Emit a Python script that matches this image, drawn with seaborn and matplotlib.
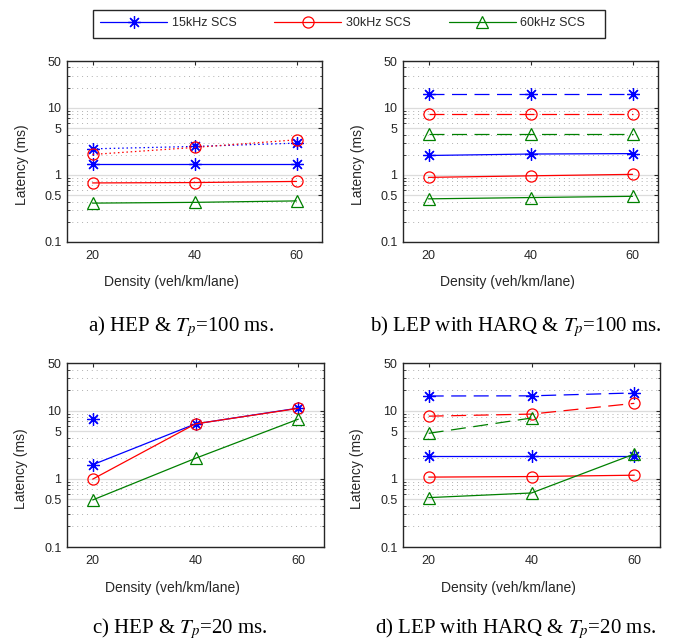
import matplotlib
matplotlib.use("Agg")
import matplotlib.pyplot as plt
import numpy as np
import pandas as pd
import seaborn as sns
from matplotlib.lines import Line2D
from matplotlib.patches import Rectangle
from matplotlib.ticker import FixedLocator, LogLocator, NullFormatter

# ---------------------------------------------------------------
# data (latency in ms)
# ---------------------------------------------------------------
density = [20, 40, 60]
scs_labels = ["15kHz SCS", "30kHz SCS", "60kHz SCS"]
y_ticks = [0.1, 0.5, 1, 5, 10, 50]
y_tick_labels = ["0.1", "0.5", "1", "5", "10", "50"]

# a) HEP & Tp=100 ms
a_solid_15 = [1.45, 1.45, 1.45]
a_solid_30 = [0.76, 0.77, 0.80]
a_solid_60 = [0.38, 0.39, 0.41]
a_dot_15 = [2.45, 2.66, 2.98]
a_dot_30 = [2.02, 2.57, 3.34]

# b) LEP with HARQ & Tp=100 ms
b_solid_15 = [1.95, 2.05, 2.08]
b_solid_30 = [0.92, 0.97, 1.02]
b_solid_60 = [0.44, 0.46, 0.48]
b_dash_15 = [16.2, 16.2, 16.2]
b_dash_30 = [8.1, 8.1, 8.1]
b_dash_60 = [4.1, 4.1, 4.1]

# c) HEP & Tp=20 ms
c_solid_15 = [1.61, 6.4, 10.9]
c_solid_30 = [0.99, 6.4, 10.8]
c_solid_60 = [0.49, 2.0, 7.5]
c_dot_15 = [7.6, np.nan, np.nan]

# d) LEP with HARQ & Tp=20 ms
d_solid_15 = [2.16, 2.16, 2.16]
d_solid_30 = [1.06, 1.08, 1.13]
d_solid_60 = [0.53, 0.62, 2.31]
d_dash_15 = [16.4, 16.5, 18.2]
d_dash_30 = [8.3, 8.9, 12.8]
d_dash_60 = [4.65, 7.8, np.nan]

# ---------------------------------------------------------------
# style
# ---------------------------------------------------------------
sns.set_theme(style="white")
plt.rcParams["font.family"] = ["Liberation Sans", "DejaVu Sans"]
plt.rcParams["mathtext.fontset"] = "stix"

colors = ["#0000ff", "#ff0000", "#008000"]
markers = [(8, 2, 0), "o", "^"]
msizes = [9, 8, 9]
dark = "#262626"
lstyles = {"solid": "-", "dash": (0, (12, 6)), "dot": (0, (1.2, 2.2))}

panels = [
    ("a) HEP & $T_p$=100 ms.",
     [(a_solid_15, 0, "solid"), (a_solid_30, 1, "solid"), (a_solid_60, 2, "solid"),
      (a_dot_15, 0, "dot"), (a_dot_30, 1, "dot")]),
    ("b) LEP with HARQ & $T_p$=100 ms.",
     [(b_solid_15, 0, "solid"), (b_solid_30, 1, "solid"), (b_solid_60, 2, "solid"),
      (b_dash_15, 0, "dash"), (b_dash_30, 1, "dash"), (b_dash_60, 2, "dash")]),
    ("c) HEP & $T_p$=20 ms.",
     [(c_solid_15, 0, "solid"), (c_solid_30, 1, "solid"), (c_solid_60, 2, "solid"),
      (c_dot_15, 0, "dot")]),
    ("d) LEP with HARQ & $T_p$=20 ms.",
     [(d_solid_15, 0, "solid"), (d_solid_30, 1, "solid"), (d_solid_60, 2, "solid"),
      (d_dash_15, 0, "dash"), (d_dash_30, 1, "dash"), (d_dash_60, 2, "dash")]),
]

W, H = 673, 642
fig = plt.figure(figsize=(W / 100, H / 100), dpi=100)

# axes boxes in pixels: left, top, right, bottom
boxes = [(67, 61, 322, 242), (403, 61, 658, 242),
         (67, 363, 324, 547), (403, 363, 660, 547)]
caption_pos = [(181, 327), (516, 327), (180, 629), (516, 629)]

for (caption, series), (l, t, r, b), (cx, cy) in zip(panels, boxes, caption_pos):
    ax = fig.add_axes([l / W, 1 - b / H, (r - l) / W, (b - t) / H])
    ax.set_yscale("log")

    for vals, k, ls in series:
        df = pd.DataFrame({"density": density, "latency": vals})
        sns.lineplot(data=df, x="density", y="latency", ax=ax,
                     color=colors[k], marker=markers[k], markersize=msizes[k],
                     markerfacecolor="none", markeredgecolor=colors[k],
                     markeredgewidth=0.9, linewidth=0.9, linestyle=lstyles[ls],
                     errorbar=None, legend=False)

    ax.set_xlim(15, 65)
    ax.set_ylim(0.1, 50)
    ax.set_xticks(density)
    ax.yaxis.set_major_locator(FixedLocator(y_ticks))
    ax.set_yticklabels(y_tick_labels)
    ax.yaxis.set_minor_locator(LogLocator(base=10, subs=np.arange(2, 10)))
    ax.yaxis.set_minor_formatter(NullFormatter())

    ax.grid(False)
    ax.grid(True, which="major", axis="y", color="#dcdcdc", linewidth=0.9, linestyle="-")
    ax.grid(True, which="minor", axis="y", color="#b0b0b0", linewidth=0.7,
            linestyle=(0, (1, 4)))
    ax.set_axisbelow(True)

    ax.tick_params(axis="both", which="major", direction="in", length=3,
                   width=0.8, color=dark, labelsize=9, labelcolor=dark,
                   top=True, right=True)
    ax.tick_params(axis="y", which="minor", direction="in", length=1.8,
                   width=0.6, color=dark, left=True, right=True)
    ax.tick_params(axis="x", pad=6)
    ax.tick_params(axis="y", pad=4)
    for sp in ax.spines.values():
        sp.set_color(dark)
        sp.set_linewidth(1.0)

    ax.set_xlabel("Density (veh/km/lane)", fontsize=10, color=dark)
    ax.set_ylabel("Latency (ms)", fontsize=10, color=dark)
    ax.xaxis.set_label_coords(0.41, -0.185)
    ax.yaxis.set_label_coords(-0.15, 0.425)

    fig.text(cx / W, 1 - cy / H, caption, ha="center", va="center",
             fontsize=15, family="Liberation Serif", color="black")

# legend across the top, with a square box drawn separately
handles = [Line2D([], [], color=colors[k], marker=markers[k], markersize=msizes[k],
                  markerfacecolor="none", markeredgewidth=0.9, linewidth=0.9)
           for k in range(3)]
fig.patches.append(Rectangle((93 / W, 1 - 38 / H), 512 / W, 28 / H,
                             transform=fig.transFigure, facecolor="white",
                             edgecolor=dark, linewidth=1.0, zorder=0))
fig.legend(handles, scs_labels, loc="center left", bbox_to_anchor=(100 / W, 1 - 23 / H),
           ncol=3, fontsize=9, numpoints=1, handlelength=5.36, handletextpad=0.4,
           columnspacing=3.0, borderpad=0, borderaxespad=0, frameon=False)

fig.savefig("out.png", dpi=100)
